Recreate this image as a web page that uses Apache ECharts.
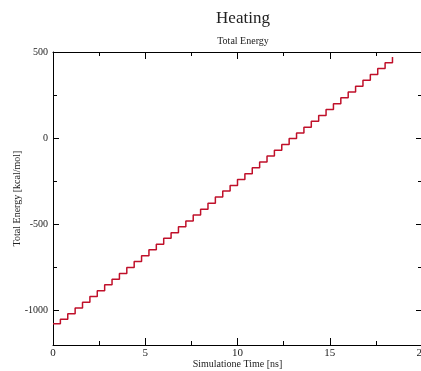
<!DOCTYPE html>
<html>
<head>
<meta charset="utf-8">
<script src="https://cdn.jsdelivr.net/npm/echarts@6/dist/echarts.min.js"></script>
<style>html,body{margin:0;padding:0;background:#fff;}#c{width:421px;height:371px;}</style>
</head>
<body>
<div id="c"></div>
<script>
var timeNs = [0, 0.4, 0.8, 1.2, 1.6, 2.0, 2.4, 2.8, 3.2, 3.6, 4.0, 4.4, 4.8, 5.2, 5.6, 6.0, 6.4, 6.8, 7.2, 7.6, 8.0, 8.4, 8.8, 9.2, 9.6, 10.0, 10.4, 10.8, 11.2, 11.6, 12.0, 12.4, 12.8, 13.2, 13.6, 14.0, 14.4, 14.8, 15.2, 15.6, 16.0, 16.4, 16.8, 17.2, 17.6, 18.0, 18.4];
var energy = [-1077, -1050, -1018, -985, -952, -918, -885, -850, -818, -785, -750, -715, -682, -648, -615, -580, -548, -514, -480, -446, -412, -378, -342, -307, -274, -240, -206, -172, -138, -104, -70, -36, -2, 30, 64, 98, 132, 166, 200, 234, 268, 302, 336, 370, 404, 438, 471];
var yMajorTicks = [-1000, -500, 0, 500];
var yMinorTicks = [-750, -250, 250];
var xTickLabels = [0, 5, 10, 15, 20];

var serif = 'Liberation Serif';
var chart = echarts.init(document.getElementById('c'), null, {renderer: 'canvas'});
var yBase = {type: 'value', min: -1200, max: 500, splitLine: {show: false}};
var axisLineStyle = {onZero: false, lineStyle: {color: '#000', width: 1}};
var noLine = {show: false, onZero: false};
var plain = function(v){ return String(v); };
var option = {
  backgroundColor: '#fff',
  animation: false,
  title: [
    {text: 'Heating', left: 238, top: 5, textAlign: 'center',
     textStyle: {fontFamily: serif, fontSize: 17, fontWeight: 'normal', color: '#222'}},
    {text: 'Total Energy', left: 238, top: 31, textAlign: 'center',
     textStyle: {fontFamily: serif, fontSize: 10, fontWeight: 'normal', color: '#222'}}
  ],
  grid: {left: 53, top: 52, right: -1, bottom: 26, containLabel: false, outerBoundsMode: 'none'},
  xAxis: [
    {type: 'value', min: 0, max: 20, interval: 5, position: 'bottom',
     name: 'Simulatione Time [ns]', nameLocation: 'middle', nameGap: 14, nameMoveOverlap: false,
     nameTextStyle: {fontFamily: serif, fontSize: 10, color: '#222', verticalAlign: 'top'},
     axisLine: axisLineStyle,
     axisTick: {inside: true, length: 7, lineStyle: {color: '#000'}},
     minorTick: {show: true, splitNumber: 2, length: 4, lineStyle: {color: '#000'}},
     axisLabel: {fontFamily: serif, fontSize: 11, color: '#222', margin: 3,
       customValues: xTickLabels, formatter: plain},
     splitLine: {show: false}},
    {type: 'value', min: 0, max: 20, interval: 5, position: 'top',
     axisLine: axisLineStyle,
     axisTick: {inside: true, length: 7, lineStyle: {color: '#000'}},
     minorTick: {show: true, splitNumber: 2, length: 4, lineStyle: {color: '#000'}},
     axisLabel: {show: false}, splitLine: {show: false}}
  ],
  yAxis: [
    Object.assign({}, yBase, {position: 'left',
     name: 'Total Energy [kcal/mol]', nameLocation: 'middle', nameGap: 31, nameMoveOverlap: false,
     nameTextStyle: {fontFamily: serif, fontSize: 10, color: '#222'},
     axisLine: axisLineStyle,
     axisTick: {inside: true, length: 6, customValues: yMajorTicks, lineStyle: {color: '#000'}},
     axisLabel: {fontFamily: serif, fontSize: 10, color: '#222', margin: 5, customValues: yMajorTicks, formatter: plain}}),
    Object.assign({}, yBase, {position: 'left',
     axisLine: noLine,
     axisTick: {inside: true, length: 4, customValues: yMinorTicks, lineStyle: {color: '#000'}},
     axisLabel: {show: false, customValues: yMinorTicks}}),
    Object.assign({}, yBase, {position: 'right',
     axisLine: axisLineStyle,
     axisTick: {inside: true, length: 6, customValues: yMajorTicks, lineStyle: {color: '#000'}},
     axisLabel: {show: false, customValues: yMajorTicks}}),
    Object.assign({}, yBase, {position: 'right',
     axisLine: noLine,
     axisTick: {inside: true, length: 4, customValues: yMinorTicks, lineStyle: {color: '#000'}},
     axisLabel: {show: false, customValues: yMinorTicks}})
  ],
  series: [{
    type: 'line', step: 'end', showSymbol: false, xAxisIndex: 0, yAxisIndex: 0,
    lineStyle: {color: '#c0102a', width: 1.5},
    data: timeNs.map(function(t, i){ return [t, energy[i]]; })
  }]
};
chart.setOption(option);
</script>
</body>
</html>
